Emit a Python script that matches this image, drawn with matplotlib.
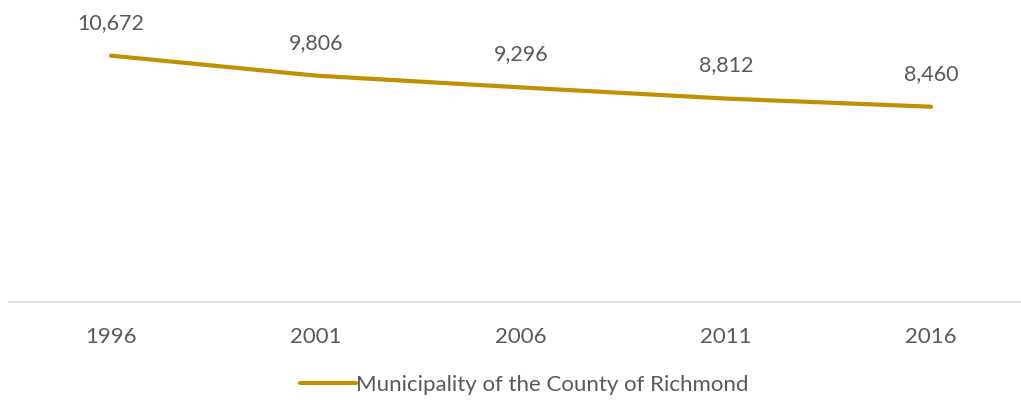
import matplotlib
matplotlib.use('Agg')
import matplotlib.pyplot as plt

years = ['1996', '2001', '2006', '2011', '2016']
population = [10672, 9806, 9296, 8812, 8460]
series_name = 'Municipality of the County of Richmond'

LINE_COLOR = '#BF9000'
TEXT_COLOR = '#595959'
FONT = ['Lato', 'DejaVu Sans']

plt.rcParams['font.family'] = FONT

W, H = 1021, 403
fig = plt.figure(figsize=(W / 100, H / 100), dpi=100)
ax = fig.add_axes([8.5 / W, (H - 302) / H, 1025 / W, 277 / H])

x = list(range(len(years)))
line, = ax.plot(x, population, color=LINE_COLOR, lw=3.0, solid_capstyle='round',
                solid_joinstyle='round', label=series_name)

for xi, v in zip(x, population):
    ax.annotate(f'{v:,}', (xi, v), xytext=(0, 33), textcoords='offset pixels',
                ha='center', va='center', fontsize=15.5, color=TEXT_COLOR)

ax.set_xlim(-0.5, len(years) - 0.5)
ax.set_ylim(0, 12000)
ax.set_xticks(x)
ax.set_xticklabels(years, fontsize=16, color=TEXT_COLOR)
ax.set_yticks([])
ax.tick_params(axis='x', length=0, pad=18)
for s in ['top', 'left', 'right']:
    ax.spines[s].set_visible(False)
ax.spines['bottom'].set_color('#D9D9D9')
ax.spines['bottom'].set_linewidth(1.2)

leg = fig.legend(handles=[line], loc='center', bbox_to_anchor=(524 / W, 1 - 385 / H),
                 frameon=False, fontsize=16, handlelength=2.5, handletextpad=0.0,
                 borderpad=0)
for t in leg.get_texts():
    t.set_color(TEXT_COLOR)

fig.savefig('out.png', dpi=100)
